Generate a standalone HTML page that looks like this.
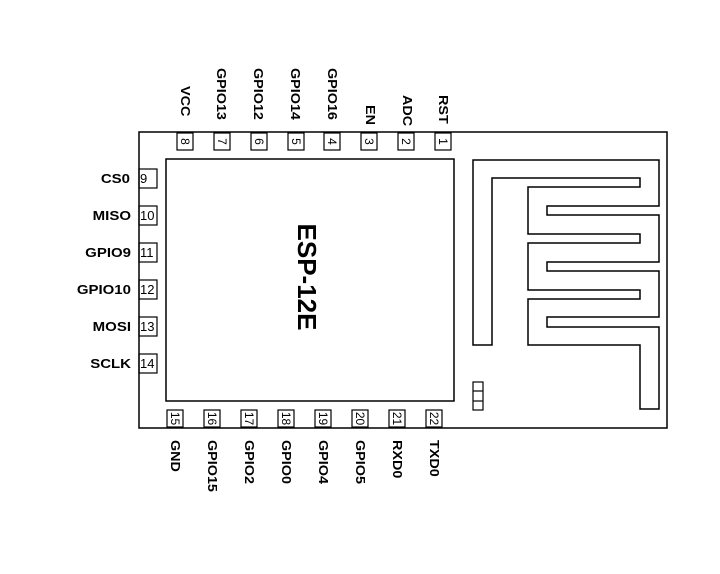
<!DOCTYPE html>
<html><head><meta charset="utf-8"><style>
html,body{margin:0;padding:0;background:#fff;}
svg{display:block;}
text{font-family:"Liberation Sans",Arial,sans-serif;fill:#000;}
.lb{font-weight:bold;font-size:12.5px;}
.pn{font-size:12px;}
</style></head><body>
<svg width="720" height="574" viewBox="0 0 720 574" xmlns="http://www.w3.org/2000/svg">
<g fill="none" stroke="#000" stroke-width="1.5">
<rect x="139" y="132" width="528" height="296"/>
<rect x="166" y="159" width="288" height="242"/>
<polygon points="473,160 659,160 659,206 547,206 547,215 659,215 659,262 547,262 547,271 659,271 659,317 547,317 547,327 659,327 659,409 640,409 640,345 528,345 528,299 640,299 640,290 528,290 528,243 640,243 640,234 528,234 528,187 640,187 640,178 492,178 492,345 473,345"/>
<rect x="473" y="382" width="10" height="28" stroke-width="1.2"/>
<line x1="473" y1="391" x2="483" y2="391" stroke-width="1.2"/>
<line x1="473" y1="401" x2="483" y2="401" stroke-width="1.2"/>
</g>
<g fill="none" stroke="#000" stroke-width="1.2">
<rect x="177" y="133" width="16" height="17"/><rect x="214" y="133" width="16" height="17"/>
<rect x="251" y="133" width="16" height="17"/><rect x="288" y="133" width="16" height="17"/>
<rect x="324" y="133" width="16" height="17"/><rect x="361" y="133" width="16" height="17"/>
<rect x="398" y="133" width="16" height="17"/><rect x="435" y="133" width="16" height="17"/>
<rect x="167" y="410" width="16" height="17"/><rect x="204" y="410" width="16" height="17"/>
<rect x="241" y="410" width="16" height="17"/><rect x="278" y="410" width="16" height="17"/>
<rect x="315" y="410" width="16" height="17"/><rect x="352" y="410" width="16" height="17"/>
<rect x="389" y="410" width="16" height="17"/><rect x="426" y="410" width="16" height="17"/>
<rect x="139" y="169" width="18" height="19"/><rect x="139" y="206" width="18" height="19"/>
<rect x="139" y="243" width="18" height="19"/><rect x="139" y="280" width="18" height="19"/>
<rect x="139" y="317" width="18" height="19"/><rect x="139" y="354" width="18" height="19"/>
</g>
<g class="pn" text-anchor="middle">
<text transform="translate(185,141.5) rotate(90)" dy="4">8</text>
<text transform="translate(222,141.5) rotate(90)" dy="4">7</text>
<text transform="translate(259,141.5) rotate(90)" dy="4">6</text>
<text transform="translate(296,141.5) rotate(90)" dy="4">5</text>
<text transform="translate(332,141.5) rotate(90)" dy="4">4</text>
<text transform="translate(369,141.5) rotate(90)" dy="4">3</text>
<text transform="translate(406,141.5) rotate(90)" dy="4">2</text>
<text transform="translate(443,141.5) rotate(90)" dy="4">1</text>
<text transform="translate(175,418.5) rotate(90)" dy="4">15</text>
<text transform="translate(212,418.5) rotate(90)" dy="4">16</text>
<text transform="translate(249,418.5) rotate(90)" dy="4">17</text>
<text transform="translate(286,418.5) rotate(90)" dy="4">18</text>
<text transform="translate(323,418.5) rotate(90)" dy="4">19</text>
<text transform="translate(360,418.5) rotate(90)" dy="4">20</text>
<text transform="translate(397,418.5) rotate(90)" dy="4">21</text>
<text transform="translate(434,418.5) rotate(90)" dy="4">22</text>
</g>
<g class="pn" style="font-size:13px">
<text x="140" y="183">9</text><text x="140" y="220">10</text>
<text x="140" y="257">11</text><text x="140" y="294">12</text>
<text x="140" y="331">13</text><text x="140" y="368">14</text>
</g>
<g class="lb">
<text transform="translate(181,86) rotate(90) scale(1.15,1)">VCC</text>
<text transform="translate(217,68) rotate(90) scale(1.15,1)">GPIO13</text>
<text transform="translate(254,68) rotate(90) scale(1.15,1)">GPIO12</text>
<text transform="translate(291,68) rotate(90) scale(1.15,1)">GPIO14</text>
<text transform="translate(328,68) rotate(90) scale(1.15,1)">GPIO16</text>
<text transform="translate(366,105) rotate(90) scale(1.15,1)">EN</text>
<text transform="translate(403,95) rotate(90) scale(1.15,1)">ADC</text>
<text transform="translate(439,95) rotate(90) scale(1.15,1)">RST</text>
<text transform="translate(171,440) rotate(90) scale(1.15,1)">GND</text>
<text transform="translate(208,440) rotate(90) scale(1.15,1)">GPIO15</text>
<text transform="translate(245,440) rotate(90) scale(1.15,1)">GPIO2</text>
<text transform="translate(282,440) rotate(90) scale(1.15,1)">GPIO0</text>
<text transform="translate(319,440) rotate(90) scale(1.15,1)">GPIO4</text>
<text transform="translate(356,440) rotate(90) scale(1.15,1)">GPIO5</text>
<text transform="translate(393,440) rotate(90) scale(1.15,1)">RXD0</text>
<text transform="translate(430,440) rotate(90) scale(1.15,1)">TXD0</text>
</g>
<g class="lb" text-anchor="end">
<text transform="translate(130,183) scale(1.2,1)">CS0</text>
<text transform="translate(131,220) scale(1.2,1)">MISO</text>
<text transform="translate(131,257) scale(1.2,1)">GPIO9</text>
<text transform="translate(131,294) scale(1.2,1)">GPIO10</text>
<text transform="translate(131,331) scale(1.2,1)">MOSI</text>
<text transform="translate(131,368) scale(1.2,1)">SCLK</text>
</g>
<text transform="translate(307,277) rotate(90)" text-anchor="middle" dy="9" style="font-weight:bold;font-size:26px">ESP-12E</text>
</svg>
</body></html>
